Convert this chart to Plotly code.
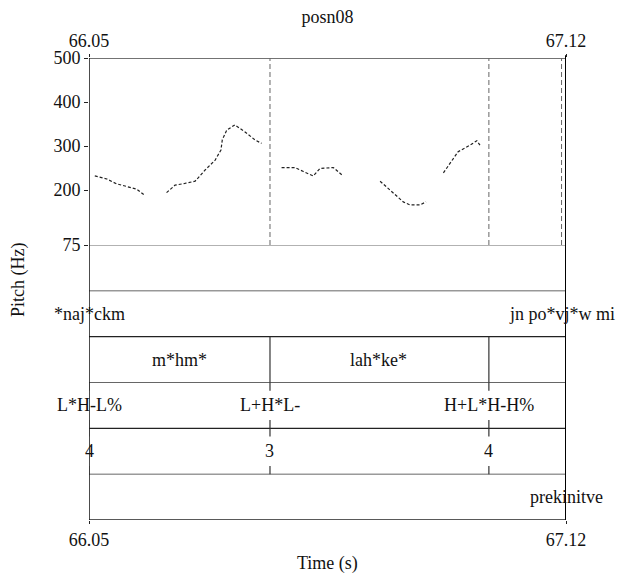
import plotly.graph_objects as go

# ---------------- data ----------------
title_text = "posn08"
t_start, t_end = 66.05, 67.12
x_ticks = [66.05, 67.12]
x_ticktext = ["66.05", "67.12"]
pitch_ticks = [75, 200, 300, 400, 500]
pitch_range = [75, 500]

# pitch contour segments (time s, F0 Hz)
seg1_t = [66.063, 66.090, 66.112, 66.135, 66.157, 66.176]
seg1_f = [232, 225, 214, 208, 202, 187]
seg2_t = [66.224, 66.243, 66.265, 66.288, 66.310, 66.333, 66.346, 66.349, 66.359, 66.377, 66.400, 66.422, 66.437]
seg2_f = [194, 211, 215, 220, 245, 268, 291, 314, 336, 348, 332, 314, 306]
seg3_t = [66.482, 66.512, 66.531, 66.553, 66.568, 66.598, 66.620]
seg3_f = [251, 251, 242, 232, 249, 251, 232]
seg4_t = [66.703, 66.725, 66.755, 66.770, 66.792, 66.806]
seg4_f = [220, 200, 173, 166, 166, 173]
seg5_t = [66.845, 66.860, 66.878, 66.905, 66.920, 66.927]
seg5_f = [239, 261, 287, 302, 312, 302]

# boundaries shown as dashed lines in the pitch panel
pitch_boundaries = [66.456, 66.947, 67.11]

# tiers (top to bottom)
tier2_times = [66.05, 67.11]
tier2_labels = ["*naj*ckm", "jn po*vj*w mi"]
tier3_bounds = [66.456, 66.947]
tier3_mids = [66.253, 66.70]
tier3_labels = ["m*hm*", "lah*ke*"]
tier4_times = [66.05, 66.456, 66.947]
tier4_labels = ["L*H-L%", "L+H*L-", "H+L*H-H%"]
tier5_times = [66.05, 66.456, 66.947]
tier5_labels = ["4", "3", "4"]
tier6_times = [67.12]
tier6_labels = ["prekinitve"]

# ---------------- figure ----------------
FONT = "Liberation Serif"
FS = 18
OFF = 8  # page body margin
W, H = 624 - OFF, 573 - OFF
ml, mt = 89 - OFF, 58 - OFF
mr = OFF + W - 566
mb = OFF + H - 520
plot_w = W - ml - mr
plot_h = H - mt - mb
split = (520 - 245) / plot_h  # fraction for tiers

fig = go.Figure()

xs, ys = [], []
for tt, ff in [(seg1_t, seg1_f), (seg2_t, seg2_f), (seg3_t, seg3_f), (seg4_t, seg4_f), (seg5_t, seg5_f)]:
    xs += tt + [None]
    ys += ff + [None]
fig.add_trace(go.Scatter(x=xs, y=ys, mode="lines", xaxis="x", yaxis="y",
                         line=dict(color="#222", width=1.2, dash="3px,2px"),
                         showlegend=False, hoverinfo="skip"))
# invisible trace to establish the top axis
fig.add_trace(go.Scatter(x=[t_start, t_end], y=[pitch_range[0], pitch_range[0]], xaxis="x2", yaxis="y",
                         mode="markers", marker=dict(opacity=0), showlegend=False, hoverinfo="skip"))

shapes = []
# horizontal tier lines
for k in range(0, 7):
    dark = k in (0, 2, 4)
    shapes.append(dict(type="line", xref="x", yref="y2", x0=t_start, x1=t_end, y0=k, y1=k,
                       line=dict(color="#222" if dark else "#666", width=1.4 if dark else 1)))
# pitch panel top
shapes.append(dict(type="line", xref="x", yref="y", x0=t_start, x1=t_end, y0=500, y1=500,
                   line=dict(color="#444", width=1.3)))
# left and right borders
shapes.append(dict(type="line", xref="x", yref="paper", x0=t_start, x1=t_start, y0=0, y1=1,
                   line=dict(color="#111", width=1.5)))
shapes.append(dict(type="line", xref="x", yref="paper", x0=t_end, x1=t_end, y0=0, y1=1.006,
                   line=dict(color="#000", width=2)))
# dashed boundaries in pitch panel
for b in pitch_boundaries:
    shapes.append(dict(type="line", xref="x", yref="y", x0=b, x1=b, y0=75, y1=500,
                       line=dict(color="#666", width=1, dash="5px,3px")))
# tier 3 interval boundaries
for b in tier3_bounds:
    shapes.append(dict(type="line", xref="x", yref="y2", x0=b, x1=b, y0=3, y1=4,
                       line=dict(color="#333", width=1.2)))
# point ticks in tiers 4 and 5
tk = 0.18
for times, lo in [(tier4_times, 2), (tier5_times, 1)]:
    for t in times:
        shapes.append(dict(type="line", xref="x", yref="y2", x0=t, x1=t, y0=lo, y1=lo + tk,
                           line=dict(color="#333", width=1.2)))
        shapes.append(dict(type="line", xref="x", yref="y2", x0=t, x1=t, y0=lo + 1 - tk, y1=lo + 1,
                           line=dict(color="#333", width=1.2)))

annotations = []
tf = dict(family=FONT, size=FS, color="#111")
def lab(x, y, text):
    annotations.append(dict(x=x, y=y, xref="x", yref="y2", text=text, showarrow=False,
                            font=tf, xanchor="center", yanchor="middle"))
for t, s in zip(tier2_times, tier2_labels):
    lab(t, 4.5, s)
for t, s in zip(tier3_mids, tier3_labels):
    lab(t, 3.5, s)
for t, s in zip(tier4_times, tier4_labels):
    lab(t, 2.5, s)
for t, s in zip(tier5_times, tier5_labels):
    lab(t, 1.5, s)
for t, s in zip(tier6_times, tier6_labels):
    lab(t, 0.5, s)
# y-axis title (centered on whole panel)
annotations.append(dict(x=-(89 - 18) / plot_w, xref="paper", y=(520 - 280) / plot_h, yref="paper",
                        text="Pitch (Hz)", showarrow=False, textangle=-90,
                        font=dict(family=FONT, size=FS, color="#111"),
                        xanchor="center", yanchor="middle"))
# x-axis title
annotations.append(dict(x=0.5, xref="paper", y=-(563 - 520) / plot_h, yref="paper",
                        text="Time (s)", showarrow=False,
                        font=dict(family=FONT, size=FS, color="#111"),
                        xanchor="center", yanchor="middle"))

fig.update_layout(
    width=W, height=H, autosize=False,
    margin=dict(l=ml, r=mr, t=mt, b=mb, pad=0),
    paper_bgcolor="white", plot_bgcolor="white",
    title=dict(text=title_text, x=(ml + plot_w / 2) / W, xanchor="center",
               y=1 - (17 - OFF) / H, yanchor="middle", font=dict(family=FONT, size=FS, color="#111")),
    xaxis=dict(range=[t_start, t_end], domain=[0, 1], anchor="y2", showgrid=False, zeroline=False,
               showline=False, tickmode="array", tickvals=x_ticks, ticktext=x_ticktext,
               ticks="outside", ticklen=3, tickcolor="#222", automargin=False,
               tickfont=dict(family=FONT, size=FS, color="#111")),
    xaxis2=dict(range=[t_start, t_end], overlaying="x", side="top", anchor="y", showgrid=False,
                zeroline=False, showline=False, tickmode="array", tickvals=x_ticks, ticktext=x_ticktext,
                ticks="outside", ticklen=3, tickcolor="#222", automargin=False,
                tickfont=dict(family=FONT, size=FS, color="#111")),
    yaxis=dict(range=pitch_range, domain=[split, 1], anchor="x", showgrid=False, zeroline=False,
               showline=False, tickmode="array", tickvals=pitch_ticks, ticks="outside", ticklen=4,
               tickcolor="#222", automargin=False, tickfont=dict(family=FONT, size=FS, color="#111")),
    yaxis2=dict(range=[0, 6], domain=[0, split], anchor="x", showgrid=False, zeroline=False,
                showline=False, showticklabels=False, ticks="", automargin=False),
    shapes=shapes, annotations=annotations,
)

fig.write_html("out.html")
